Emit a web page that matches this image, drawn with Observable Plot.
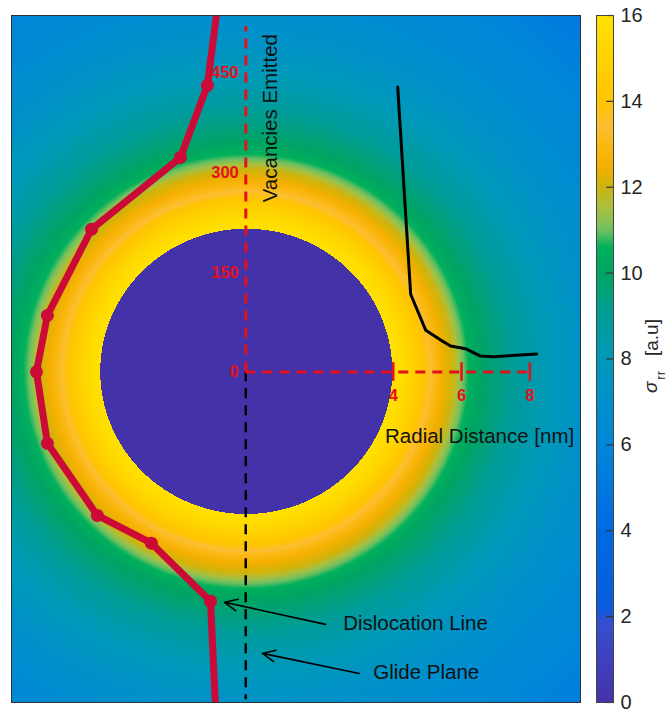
<!DOCTYPE html>
<html><head><meta charset="utf-8">
<script src="https://cdn.jsdelivr.net/npm/d3@7"></script>
<script src="https://cdn.jsdelivr.net/npm/@observablehq/plot@0.6"></script>
<style>
body{margin:0;background:#fff;}
#chart{position:relative;width:669px;height:710px;font-family:"Liberation Sans",Arial,sans-serif;}
#chart svg{position:absolute;top:0;}
</style></head><body><div id="chart"></div>
<script>
// ---- data ----
// radial stress profile sigma_rr (a.u.) vs distance from void centre (nm)
const sigmaRadius = [4.27, 4.6, 4.85, 5.2, 5.45, 5.75, 6.05, 6.35, 6.55, 6.85, 7.8, 8.6, 9.8, 11.2, 12.7, 14.5];
const sigmaValue  = [16, 15.5, 15, 14, 13.2, 12.5, 12, 11, 10.5, 10, 9.0, 8.3, 7.4, 6.6, 6.0, 5.0];
const voidRadius = 4.27;
const voidSigma = 0;
// dislocation line (nm, void centre at origin)
const dislocationX = [-0.86, -1.12, -1.91, -4.51, -5.80, -6.12, -5.80, -4.34, -2.76, -1.03, -0.89];
const dislocationY = [10.67, 8.58, 6.42, 4.27, 1.69, 0.0, -2.14, -4.30, -5.13, -6.87, -9.90];
// inset: vacancies emitted vs radial distance
const radialDistance   = [4.13, 4.51, 4.95, 5.39, 5.68, 6.12, 6.32, 6.56, 6.94, 8.2];
const vacanciesEmitted = [429, 117, 63, 48, 39, 35, 30, 24, 23, 27];
const vacancyTicks  = [0, 150, 300, 450];
const distanceTicks = [4, 6, 8];
const sigmaTicks = [0, 2, 4, 6, 8, 10, 12, 14, 16];

// ---- scale configuration ----
const colorStops = [0, 1, 1.9, 2.2, 3, 4, 5, 6, 7, 8, 9, 10, 10.6, 11, 11.5, 12.1, 12.5, 13, 13.4, 14, 15, 16];
const colorRamp  = ["#4433a8","#4040c0","#3450d0","#0a5ce0","#0462e2","#006ae2","#0078e0","#0086d8","#008fcc","#0098ba","#009c98","#00a462","#00b05c","#70c060","#a8c040","#d4b208","#f4b000","#fbb812","#fcbe34","#ffc400","#ffd200","#ffe200"];
const colorScale = {type: "linear", domain: colorStops, range: colorRamp, interpolate: "rgb", clamp: true};

const xDomain = [-6.85, 9.79];
const yDomain = [-9.90, 10.67];
const insetXDomain = [-0.32, 8];
const insetYDomain = [0, 520];

const disloc = dislocationX.map((x, i) => ({x, y: dislocationY[i], i}));
const inset = radialDistance.map((r, i) => ({r, v: vacanciesEmitted[i]}));
const profile = d3.scaleLinear(sigmaRadius, sigmaValue).clamp(true);
const field = (x, y) => {
  const r = Math.hypot(x, y);
  return r < voidRadius ? voidSigma : profile(r);
};

const font = "'Liberation Sans', Arial, Helvetica, sans-serif";
const baseStyle = {background: "transparent", fontFamily: font, fontSize: "20px", color: "#262626", overflow: "visible"};
const red = "#e4101e";
const crimson = "#cc0a37";

const annotations = [
  {label: "Dislocation Line", tx: 2.85, ty: -7.53, x1: 2.33, y1: -7.56, x2: -0.62, y2: -6.90},
  {label: "Glide Plane", tx: 3.73, ty: -9.0, x1: 3.32, y1: -9.03, x2: 0.49, y2: -8.43}
];

const main = Plot.plot({
  width: 669, height: 710,
  marginLeft: 11, marginRight: 89, marginTop: 15, marginBottom: 8,
  style: baseStyle,
  x: {domain: xDomain, axis: null},
  y: {domain: yDomain, axis: null},
  color: colorScale,
  marks: [
    Plot.raster({x1: xDomain[0], x2: xDomain[1], y1: yDomain[0], y2: yDomain[1], width: 569, height: 687, fill: field, imageRendering: "pixelated"}),
    Plot.ruleX([0], {y1: 0, y2: yDomain[0] + 0.08, stroke: "black", strokeWidth: 2.5, strokeDasharray: "10,7"}),
    Plot.line(disloc, {x: "x", y: "y", stroke: crimson, strokeWidth: 7, strokeLinejoin: "round", clip: "frame"}),
    Plot.dot(disloc.filter(d => d.i > 0 && d.i < disloc.length - 1), {x: "x", y: "y", r: 6.5, fill: crimson}),
    Plot.arrow(annotations, {x1: "x1", y1: "y1", x2: "x2", y2: "y2", stroke: "black", strokeWidth: 1.6, headLength: 13, headAngle: 50}),
    Plot.text(annotations, {x: "tx", y: "ty", text: "label", textAnchor: "start", fontSize: 20.5, fill: "#111"}),
    Plot.frame({stroke: "#333", strokeWidth: 1})
  ]
});

const insetPlot = Plot.plot({
  width: 669, height: 710,
  style: baseStyle,
  x: {domain: insetXDomain, range: [245.3, 529.3], axis: null},
  y: {domain: insetYDomain, range: [371.5, 26], axis: null},
  marks: [
    Plot.ruleX([insetXDomain[0]], {y1: 0, y2: insetYDomain[1], stroke: red, strokeWidth: 3, strokeDasharray: "10,7"}),
    Plot.ruleY([0], {x1: insetXDomain[0], x2: 8, stroke: red, strokeWidth: 3, strokeDasharray: "10,7"}),
    Plot.ruleX(distanceTicks, {y1: -14, y2: 14, stroke: red, strokeWidth: 2.5}),
    Plot.text(distanceTicks, {x: d => d, y: 0, dy: 24, text: d => String(d), fill: red, fontWeight: "bold", fontSize: 16.5}),
    Plot.text(vacancyTicks, {x: insetXDomain[0], y: d => d, dx: -7, textAnchor: "end", text: d => String(d), fill: red, fontWeight: "bold", fontSize: 16.5}),
    Plot.line(inset, {x: "r", y: "v", stroke: "black", strokeWidth: 3}),
    Plot.text(["Vacancies Emitted"], {x: insetXDomain[0], y: 382, dx: 25, rotate: -90, fontSize: 20.5, fill: "#111"}),
    Plot.text(["Radial Distance [nm]"], {x: 6.53, y: 0, dy: 64, fontSize: 20.5, fill: "#111"})
  ]
});

const bar = Plot.plot({
  width: 89, height: 710,
  marginLeft: 16, marginRight: 56, marginTop: 15, marginBottom: 8,
  style: baseStyle,
  x: {domain: [0, 1], axis: null},
  y: {domain: [0, 16], axis: null},
  color: colorScale,
  marks: [
    Plot.raster({x1: 0, x2: 1, y1: 0, y2: 16, width: 4, height: 687, fill: (x, y) => y}),
    Plot.ruleY(sigmaTicks, {x1: 0.6, x2: 1, stroke: "#333", strokeWidth: 1.2}),
    Plot.axisY({ticks: sigmaTicks, anchor: "right", tickSize: 0, tickPadding: 7, fontSize: 20, label: null}),
    Plot.text(["[a.u]"], {x: 1, y: 8.5, dx: 38, rotate: -90, fontSize: 19}),
    Plot.text(["σ"], {x: 1, y: 7.34, dx: 37, rotate: -90, fontSize: 19, fontStyle: "italic"}),
    Plot.text(["rr"], {x: 1, y: 7.62, dx: 47, rotate: -90, fontSize: 13})
  ].concat([Plot.frame({stroke: "#444", strokeWidth: 1})])
});
bar.style.left = "580px";

const chart = document.getElementById("chart");
main.style.left = "0px";
insetPlot.style.left = "0px";
chart.append(main, insetPlot, bar);
</script>
</body></html>
